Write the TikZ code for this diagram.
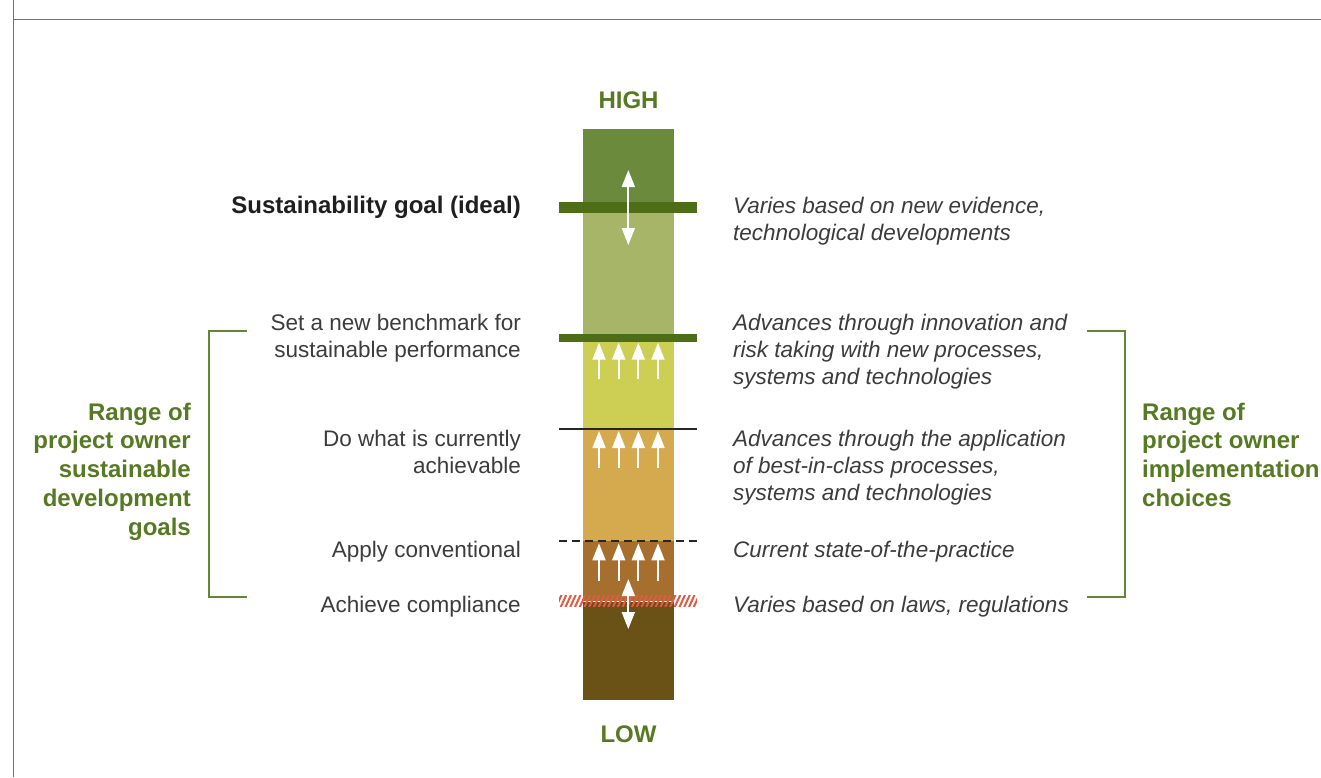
\documentclass[tikz,border=0pt]{standalone}
\usepackage{fontspec}
\setmainfont{Liberation Sans}
\usetikzlibrary{arrows.meta}
\definecolor{cTop}{HTML}{6B8A3C}
\definecolor{cOlive}{HTML}{A6B567}
\definecolor{cYellow}{HTML}{CDCF55}
\definecolor{cTan}{HTML}{D5A94D}
\definecolor{cBrown}{HTML}{A66F2E}
\definecolor{cDark}{HTML}{6A5217}
\definecolor{barGreen}{HTML}{4D6E17}
\definecolor{lblGreen}{HTML}{567A22}
\definecolor{lineGreen}{HTML}{5F8A30}
\definecolor{txtGrey}{HTML}{3C3C3C}
\definecolor{hatchRed}{HTML}{E05A45}
\newcommand\rlinesx[1]{\begin{tabular}[t]{@{}r@{}}#1\end{tabular}}
\newcommand\llinesx[1]{\begin{tabular}[t]{@{}l@{}}#1\end{tabular}}
\begin{document}
\begin{tikzpicture}[x=1pt,y=-1pt,
  lefttxt/.style={anchor=base east, inner sep=0pt, text=txtGrey, font=\fontsize{22.5}{27}\selectfont},
  righttxt/.style={anchor=base west, inner sep=0pt, text=txtGrey, font=\fontsize{22.5}{27}\selectfont\itshape},
  greenlbl/.style={inner sep=0pt, text=lblGreen, font=\fontsize{24}{28.75}\selectfont\bfseries},
  hilo/.style={anchor=base, inner sep=0pt, text=lblGreen, font=\fontsize{24}{28}\selectfont\bfseries},
  upar/.style={draw=white, line width=1.8pt, -{Triangle[width=13pt,length=17pt]}},
  dblar/.style={draw=white, line width=1.8pt, {Triangle[width=13pt,length=17pt]}-{Triangle[width=13pt,length=17pt]}},
  goalbar/.style={fill=barGreen},
  bracketline/.style={draw=lineGreen, line width=1.3pt},
  frameline/.style={draw=lineGreen, line width=1.6pt},
  hatch/.style={draw=hatchRed, line width=2pt}
]
\useasboundingbox (0,0) rectangle (1321,777);
\fill[white] (0,0) rectangle (1321,777);

% frame
\draw[frameline] (13.5,0) -- (13.5,777);
\draw[frameline] (13.5,19.3) -- (1321,19.3);

% column segments
\fill[cTop]    (583,129) rectangle (674,207);
\fill[cOlive]  (583,207) rectangle (674,338);
\fill[cYellow] (583,338) rectangle (674,428);
\fill[cTan]    (583,428) rectangle (674,541);
\fill[cBrown]  (583,541) rectangle (674,602);
\fill[cDark]   (583,602) rectangle (674,700);

% level markers
\fill[goalbar] (559,202.3) rectangle (697,212.7);
\fill[goalbar] (559,334) rectangle (697,341.7);
\draw[black!85, line width=2.2pt] (559,428.7) -- (697,428.7);
\draw[black!85, line width=2.7pt, dash pattern=on 8.3pt off 4.7pt] (559,541) -- (697,541);
\draw[white, line width=0.9pt] (559,601) -- (697,601);
\begin{scope}
  \clip (559,595.5) rectangle (697,606.5);
  \foreach \i in {0,...,29} \draw[hatch] (556+4.75*\i,607) -- (561.5+4.75*\i,595);
\end{scope}

% arrows
\foreach \xx in {599,618.7,638.3,658} {
  \draw[upar] (\xx,379) -- (\xx,342.7);
  \draw[upar] (\xx,468) -- (\xx,431);
  \draw[upar] (\xx,581) -- (\xx,543.3);
}
\draw[dblar] (628.3,170) -- (628.3,245);
\draw[dblar] (628.3,579) -- (628.3,629);

% HIGH / LOW
\node[hilo] (high) at (628.5,108.3) {HIGH};
\node[hilo] (low) at (628.5,742) {LOW};

% left texts
\node[lefttxt, font=\fontsize{24}{27}\selectfont\bfseries, text=black!88] (goal) at (521,213) {Sustainability goal (ideal)};
\node[lefttxt] (bench) at (521,330) {\rlinesx{Set a new benchmark for\\sustainable performance}};
\node[lefttxt] (achv) at (521,446) {\rlinesx{Do what is currently\\achievable}};
\node[lefttxt] (conv) at (521,557) {Apply conventional};
\node[lefttxt] (comp) at (521,612) {Achieve compliance};

% right texts
\node[righttxt] (rgoal) at (733,213) {\llinesx{Varies based on new evidence,\\technological developments}};
\node[righttxt] (rbench) at (733,330) {\llinesx{Advances through innovation and\\risk taking with new processes,\\systems and technologies}};
\node[righttxt] (rachv) at (733,446) {\llinesx{Advances through the application\\of best-in-class processes,\\systems and technologies}};
\node[righttxt] (rconv) at (733,557) {Current state-of-the-practice};
\node[righttxt] (rcomp) at (733,612) {Varies based on laws, regulations};

% brackets
\coordinate (lb1) at (246.5,331);
\coordinate (lb2) at (246.5,597);
\coordinate (rb1) at (1087,331);
\coordinate (rb2) at (1087,597);
\draw[bracketline] (lb1) -- (209,331) -- (209,597) -- (lb2);
\draw[bracketline] (rb1) -- (1125,331) -- (1125,597) -- (rb2);

% range labels
\node[greenlbl, anchor=base east] (lrange) at (191,420) {\rlinesx{Range of\\project owner\\sustainable\\development\\goals}};
\node[greenlbl, anchor=base west] (rrange) at (1142,420) {\llinesx{Range of\\project owner\\implementation\\choices}};
\end{tikzpicture}
\end{document}
